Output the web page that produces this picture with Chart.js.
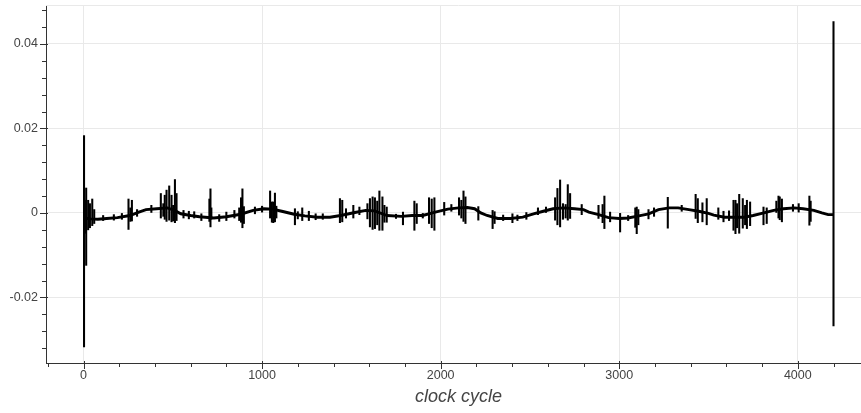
<!DOCTYPE html>
<html>
<head>
<meta charset="utf-8">
<title>clock cycle trace</title>
<script src="https://cdn.jsdelivr.net/npm/chart.js@4"></script>
<style>
  html, body { margin: 0; padding: 0; background: #fff; overflow: hidden; }
  #wrap { width: 871px; height: 413px; }
</style>
</head>
<body>
<div id="wrap"><canvas id="trace" width="871" height="413"></canvas></div>
<script>
// slow drift of the trace (clock cycle -> value)
const baseCycles = [0, 40, 80, 130, 190, 260, 310, 350, 410, 470, 510, 545, 600, 650, 730, 800, 880, 950,
  1010, 1060, 1110, 1180, 1240, 1310, 1380, 1440, 1520, 1580, 1630, 1700, 1780, 1840, 1900, 1970,
  2040, 2100, 2150, 2190, 2225, 2260, 2320, 2390, 2460, 2520, 2575, 2630, 2690, 2750, 2800, 2830,
  2885, 2940, 3000, 3050, 3110, 3165, 3220, 3280, 3330, 3390, 3445, 3500, 3530, 3590, 3650, 3700,
  3750, 3810, 3865, 3920, 3980, 4030, 4090, 4135, 4170, 4199];
const baseLevel = [-0.0012, -0.0014, -0.0015, -0.0013, -0.0011, -0.0006, 0.0002, 0.0008, 0.001, 0.0012,
  0.0006, -0.0002, -0.0006, -0.0009, -0.0012, -0.0009, -0.0003, 0.0006, 0.001, 0.0009, 0.0004,
  -0.0003, -0.0007, -0.001, -0.001, -0.0006, 0.0001, 0.0006, 0.0005, -0.0006, -0.0008, -0.0006,
  -0.0006, 0.0002, 0.0009, 0.0012, 0.0013, 0.001, 0.0, -0.0006, -0.0013, -0.0013, -0.001, -0.0002,
  0.0004, 0.001, 0.0012, 0.001, 0.0008, 0.0002, -0.0004, -0.0011, -0.0013, -0.0012, -0.0007,
  -0.0002, 0.0008, 0.0012, 0.0012, 0.0008, 0.0004, -0.0001, -0.0005, -0.001, -0.001, -0.001,
  -0.0006, 0.0, 0.0006, 0.001, 0.0012, 0.001, 0.0006, 0.0, -0.0004, -0.0004];

// short bursts: cycle, lowest and highest value reached
const spikeCycles = [3, 8, 15, 26, 36, 49, 60, 110, 170, 215, 252, 262, 271, 300, 380,
  433, 447, 455, 465, 480, 493, 502, 512, 521, 560, 590, 620, 660,
  705, 711, 716, 760, 800, 845, 872, 882, 890, 898, 960, 1000,
  1045, 1055, 1063, 1072, 1080, 1184, 1200, 1225, 1262, 1300, 1340,
  1436, 1449, 1470, 1511, 1545, 1590, 1604, 1619, 1632, 1645, 1657, 1674, 1685, 1698,
  1750, 1789, 1853, 1866, 1900, 1935, 1950, 1965, 2020, 2060,
  2103, 2116, 2128, 2139, 2211, 2291, 2302, 2350, 2402, 2430, 2480, 2545, 2590,
  2641, 2654, 2669, 2685, 2700, 2712, 2725, 2790, 2884, 2907, 2917, 2949,
  3005, 3050, 3090, 3098, 3107, 3164, 3195, 3272, 3350, 3428, 3440, 3466, 3490,
  3555, 3584, 3615, 3640, 3651, 3660, 3672, 3692, 3705, 3715, 3733,
  3808, 3826, 3880, 3892, 3899, 3911, 3973, 4005, 4065, 4072, 4200];
const spikeLow = [-0.0317, -0.0048, -0.0124, -0.004, -0.0035, -0.003, -0.0025, -0.0018, -0.0017, -0.0015,
  -0.0039, -0.002, -0.0019, -0.0008, 0.0,
  -0.0012, -0.0008, -0.0015, -0.002, -0.0017, -0.0021, -0.0019, -0.0023, -0.0018, -0.0012, -0.0014, -0.0012, -0.0018,
  -0.002, -0.0033, -0.0015, -0.002, -0.0018, -0.0012, -0.0018, -0.0022, -0.0035, -0.0025, -0.0002, 0.0002,
  -0.0012, -0.0022, -0.0023, -0.0021, -0.0012, -0.0028, -0.0014, -0.0018, -0.0018, -0.0016, -0.0015,
  -0.0023, -0.0021, -0.0012, -0.0012, -0.0004, -0.0014, -0.0033, -0.0039, -0.0037, -0.0028, -0.0041, -0.0041, -0.0022, -0.0022,
  -0.0013, -0.0028, -0.0041, -0.0025, -0.0012, -0.0025, -0.0035, -0.0041, -0.0005, 0.0004,
  -0.0005, -0.0012, -0.002, -0.0025, -0.0017, -0.0037, -0.0025, -0.0018, -0.0023, -0.0018, -0.0015, -0.0004, 0.0,
  -0.0017, -0.0028, -0.0033, -0.0015, -0.0012, -0.0017, -0.0013, -0.0004, -0.0013, -0.0023, -0.0037, -0.0021,
  -0.0045, -0.0018, -0.0034, -0.0049, -0.0028, -0.0014, -0.0008, -0.0036, 0.0004, -0.0013, -0.0023, -0.0021, -0.0028,
  -0.0015, -0.0021, -0.0018, -0.0041, -0.0049, -0.0035, -0.0048, -0.0036, -0.0028, -0.0037, -0.003,
  -0.0028, -0.0025, 0.0, -0.0012, -0.0016, -0.0021, 0.0004, 0.0002, -0.0029, -0.002, -0.0267];
const spikeHigh = [0.0183, 0.003, 0.0059, 0.003, 0.0022, 0.0033, 0.0008, -0.0006, -0.0004, 0.0,
  0.0033, 0.0012, 0.003, 0.0008, 0.0018,
  0.0046, 0.0022, 0.0042, 0.0054, 0.0064, 0.0042, 0.0018, 0.0079, 0.0046, 0.0006, 0.0004, 0.0003, -0.0002,
  0.0033, 0.0057, 0.0012, -0.0004, 0.0002, 0.0006, 0.0012, 0.0036, 0.0057, 0.0015, 0.0014, 0.0016,
  0.0052, 0.0026, 0.0026, 0.0047, 0.0016, 0.001, 0.0003, 0.0012, 0.0004, -0.0002, -0.0002,
  0.0034, 0.003, 0.001, 0.0018, 0.0014, 0.0022, 0.0034, 0.0038, 0.0036, 0.0028, 0.0052, 0.0038, 0.0018, 0.0014,
  -0.0003, 0.0002, 0.0028, 0.0022, 0.0, 0.0036, 0.0033, 0.0036, 0.0025, 0.002,
  0.0036, 0.003, 0.0052, 0.0038, 0.0015, 0.0006, 0.0003, -0.0005, -0.0002, -0.0005, 0.0001, 0.0012, 0.0014,
  0.0036, 0.0058, 0.0078, 0.0022, 0.002, 0.0067, 0.0046, 0.002, 0.0018, 0.002, 0.004, 0.0002,
  -0.0001, -0.0006, 0.0012, 0.0014, 0.0008, 0.0008, 0.0012, 0.0037, 0.0018, 0.0044, 0.0034, 0.0024, 0.0034,
  0.0012, 0.0004, 0.0005, 0.003, 0.003, 0.0022, 0.0044, 0.0034, 0.0018, 0.003, 0.0026,
  0.0014, 0.0012, 0.0028, 0.004, 0.0038, 0.0033, 0.002, 0.0022, 0.004, 0.0028, 0.0453];

const xTicks = [0, 1000, 2000, 3000, 4000];
const yTicks = [-0.02, 0, 0.02, 0.04];

const textColor = '#444';
const axisColor = '#333';
const gridColor = '#e9e9e9';
const labelFont = { family: '"Liberation Sans", Arial, sans-serif', size: 12.5 };

// major and minor tick marks plus the top outline of the plot frame
const axisTicks = {
  id: 'axisTicks',
  afterDraw(chart) {
    const { ctx, chartArea: a, scales: { x, y } } = chart;
    ctx.save();
    ctx.lineWidth = 1;
    ctx.strokeStyle = gridColor;
    ctx.beginPath();
    ctx.moveTo(a.left, a.top + 0.5);
    ctx.lineTo(a.right, a.top + 0.5);
    ctx.stroke();

    ctx.strokeStyle = axisColor;
    ctx.beginPath();
    for (let v = -200; v <= 4400; v += 200) {
      const px = Math.round(x.getPixelForValue(v)) + 0.5;
      if (px < a.left || px > a.right) continue;
      const major = xTicks.includes(v);
      ctx.moveTo(px, a.bottom - (major ? 2 : 0));
      ctx.lineTo(px, a.bottom + (major ? 6 : 4));
    }
    for (let i = -8; i <= 12; i++) {
      const py = Math.round(y.getPixelForValue(i * 0.004)) + 0.5;
      if (py < a.top || py > a.bottom) continue;
      const major = i % 5 === 0;
      ctx.moveTo(a.left + (major ? 2 : 0), py);
      ctx.lineTo(a.left - (major ? 6 : 4), py);
    }
    ctx.stroke();
    ctx.restore();
  }
};

const driftPoints = baseCycles.map((c, i) => ({ x: c, y: baseLevel[i] }));
const burstBars = spikeCycles.map((c, i) => ({ x: c, y: [spikeLow[i], spikeHigh[i]] }));

new Chart(document.getElementById('trace'), {
  type: 'line',
  data: {
    datasets: [
      {
        type: 'line',
        data: driftPoints,
        borderColor: '#000',
        borderWidth: 2.9,
        pointRadius: 0,
        tension: 0
      },
      {
        type: 'bar',
        data: burstBars,
        backgroundColor: '#000',
        borderWidth: 0,
        barThickness: 1.4,
        grouped: false
      }
    ]
  },
  options: {
    responsive: false,
    animation: false,
    events: [],
    layout: { padding: { top: 5, right: 0, bottom: 0, left: 0 } },
    plugins: { legend: { display: false }, tooltip: { enabled: false } },
    scales: {
      x: {
        type: 'linear',
        min: -210,
        max: 4410,
        offset: false,
        afterBuildTicks: s => { s.ticks = xTicks.map(v => ({ value: v })); },
        afterFit: s => { s.height = 50; s.paddingLeft = 0; s.paddingRight = 0; },
        grid: { color: gridColor, drawTicks: false, offset: false },
        border: { display: true, color: axisColor, width: 1 },
        ticks: { color: textColor, font: labelFont, padding: 5, maxRotation: 0, callback: v => String(v) },
        title: {
          display: true,
          text: 'clock cycle',
          color: textColor,
          font: { family: '"Liberation Sans", Arial, sans-serif', size: 18, style: 'italic' },
          padding: { top: 0, bottom: 5 }
        }
      },
      y: {
        type: 'linear',
        min: -0.0355,
        max: 0.0492,
        afterBuildTicks: s => { s.ticks = yTicks.map(v => ({ value: v })); },
        afterFit: s => { s.width = 46; s.paddingTop = 0; s.paddingBottom = 0; },
        grid: { color: gridColor, drawTicks: false },
        border: { display: true, color: axisColor, width: 1 },
        ticks: { color: textColor, font: labelFont, padding: 8, callback: v => String(v) }
      }
    }
  },
  plugins: [axisTicks]
});
</script>
</body>
</html>
